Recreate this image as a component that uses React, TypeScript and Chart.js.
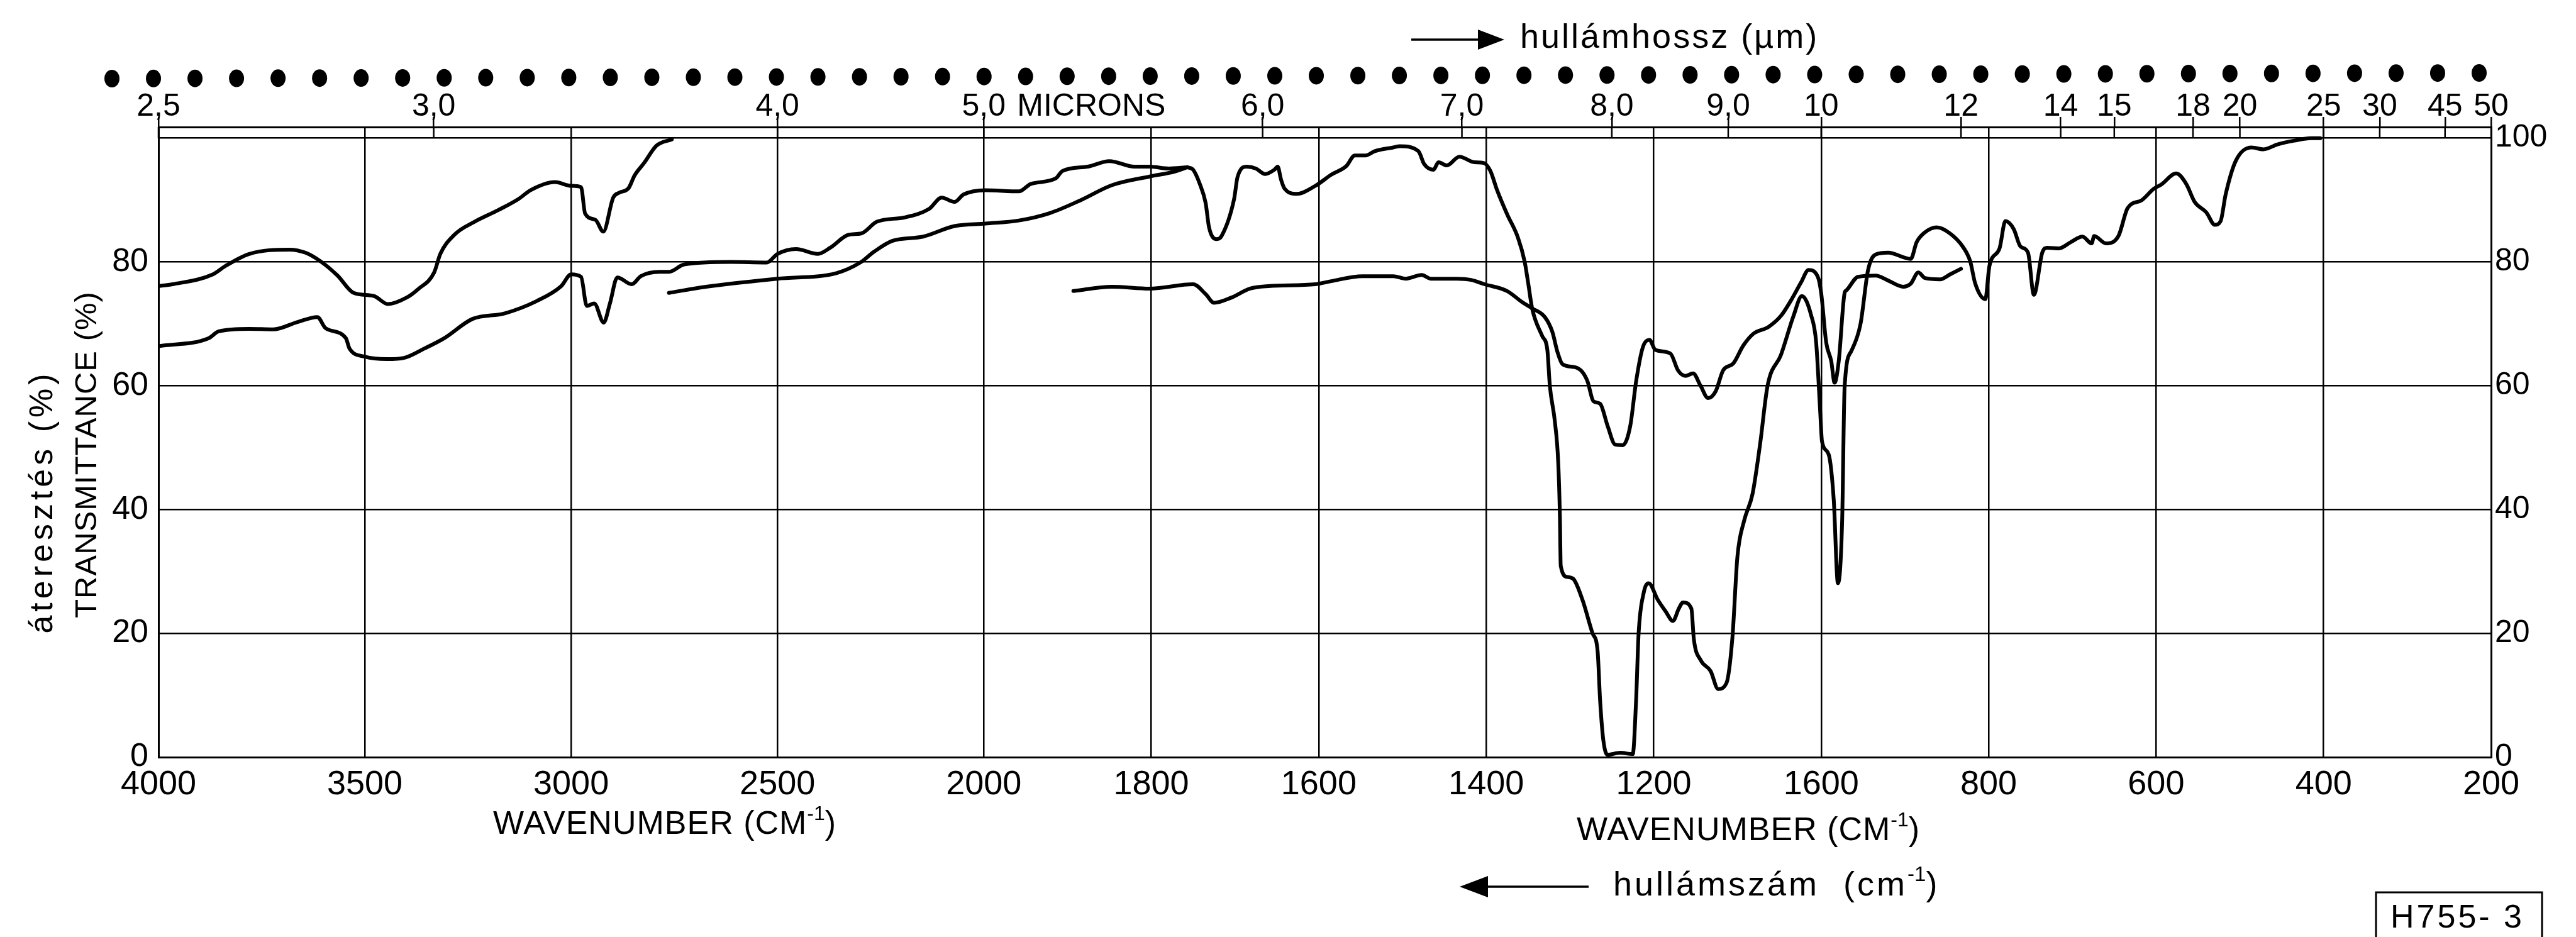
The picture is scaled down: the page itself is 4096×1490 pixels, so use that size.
import React, { useEffect, useRef } from 'react';
import { Chart, registerables, LinearScale } from 'chart.js';

// ---------------- data (wavenumber cm-1, transmittance %) ----------------
const traceA: [number, number][] = [
  [4000, 76.1], [3966, 76.4], [3868, 78], [3839, 79.3], [3780, 81.3], [3683, 82], [3644, 81.5],
  [3605, 80], [3566, 77.8], [3527, 75], [3478, 74.5], [3444, 73.2], [3400, 74.2], [3371, 75.6],
  [3332, 78.3], [3317, 81.3], [3283, 84.4], [3234, 86.5], [3176, 88.4], [3127, 90.2], [3098, 91.6],
  [3039, 92.9], [3000, 92.3], [2976, 92.1], [2966, 87.8], [2941, 86.8], [2922, 84.9], [2898, 90.4],
  [2883, 91.2], [2861, 91.9], [2846, 94], [2823, 96], [2793, 98.8], [2756, 99.8],
];

const traceB: [number, number][] = [
  [4000, 66.4], [3878, 67.7], [3854, 68.8], [3780, 69.2], [3722, 69.1], [3663, 70.3], [3615, 71.1],
  [3595, 69.3], [3546, 67.7], [3537, 66], [3500, 64.7], [3446, 64.3], [3405, 64.5], [3356, 66],
  [3307, 67.7], [3239, 70.8], [3161, 71.7], [3083, 73.7], [3024, 76.1], [3000, 78], [2976, 77.6],
  [2962, 72.9], [2944, 73.3], [2921, 70.2], [2906, 73.3], [2888, 77.5], [2853, 76.4], [2831, 77.7],
  [2786, 78.4], [2763, 78.4], [2726, 79.6], [2613, 80], [2526, 79.9], [2500, 81.3], [2455, 82.1],
  [2402, 81.3], [2372, 82.3], [2327, 84.4], [2297, 84.6], [2259, 86.5], [2192, 87.2], [2132, 88.6],
  [2102, 90.4], [2071, 89.7], [2049, 90.9], [1998, 91.6], [1958, 91.4], [1944, 92.6], [1914, 93.5],
  [1906, 94.7], [1876, 95.4], [1850, 96.3], [1820, 95.4], [1802, 95.4], [1779, 95.1], [1757, 95.3],
];

const traceD: [number, number][] = [
  [2763, 75], [2673, 76], [2500, 77.3], [2357, 78.2], [2297, 80], [2267, 81.6], [2222, 83.4],
  [2147, 84.1], [2071, 85.8], [1998, 86.2], [1958, 86.7], [1921, 87.9], [1884, 90], [1847, 92.4],
  [1802, 93.8], [1772, 94.6], [1757, 95.3],
];

const traceMain: [number, number][] = [
  [1757, 95.3], [1750, 94.9], [1742, 92.6], [1735, 89.5], [1731, 85.6], [1722, 83.7], [1716, 84.2],
  [1701, 90.2], [1697, 93.7], [1686, 95.4], [1675, 95.1], [1664, 94.2], [1653, 94.9], [1649, 95.4],
  [1645, 93.3], [1641, 91.9], [1626, 91], [1604, 92.3], [1585, 94.1], [1567, 95.5], [1557, 97.2],
  [1544, 97.2], [1533, 97.9], [1511, 98.5], [1503, 98.7], [1481, 97.9], [1474, 95.8], [1463, 94.9],
  [1457, 96.1], [1447, 95.6], [1432, 97], [1414, 96.1], [1403, 96], [1395, 94.7], [1387, 91.6],
  [1375, 87.7], [1362, 83.9], [1354, 80], [1350, 76.7], [1345, 72.4], [1333, 68], [1327, 65.8],
  [1324, 60], [1318, 54.2], [1314, 47.6], [1312, 38.9], [1311, 30.9], [1303, 29.1], [1296, 28.8],
  [1285, 25.4], [1273, 20], [1267, 17.2], [1264, 9.2], [1260, 2.6], [1255, 0.4], [1240, 0.7],
  [1225, 0.5], [1221, 9.2], [1218, 20], [1212, 26.5], [1206, 28.1], [1195, 25.4], [1186, 23.6],
  [1177, 22], [1170, 24], [1165, 25], [1155, 24], [1152, 19], [1144, 15.7], [1132, 13.9],
  [1123, 11], [1113, 12], [1106, 19.3], [1100, 32.4], [1092, 38.2], [1082, 42.5], [1073, 50.5],
  [1064, 60], [1048, 65], [1033, 71.3], [1023, 74.5], [1012, 71.4], [1006, 67], [1001, 55.4],
  [999, 51], [991, 48.9], [985, 41.6], [980, 28.1], [975, 37.9], [972, 59.8], [964, 65.6],
  [953, 70], [944, 78.7], [935, 81.2], [920, 81.5], [893, 80.5], [886, 83.2], [876, 84.8],
  [862, 85.6], [846, 84.6], [831, 82.5], [822, 80.1], [816, 76.5], [804, 74], [799, 79.4],
  [787, 82.2], [780, 86.6], [770, 85.3], [762, 82.5], [753, 81.5], [746, 74.7], [736, 81.5],
  [730, 82.3], [716, 82.2], [702, 83.2], [688, 84.1], [677, 83], [674, 84.2], [660, 83],
  [645, 84.2], [634, 88.7], [617, 90], [603, 91.8], [594, 92.5], [576, 94.3], [564, 92.6],
  [554, 89.7], [540, 88], [530, 86], [523, 86.6], [517, 90.9], [505, 96.3], [486, 98.5],
  [472, 98.2], [455, 99], [435, 99.6], [415, 100], [404, 100],
];

const traceC: [number, number][] = [
  [1893, 75.3], [1847, 76], [1802, 75.7], [1750, 76.4], [1735, 74.8], [1725, 73.4], [1705, 74.2],
  [1682, 75.7], [1660, 76.1], [1604, 76.4], [1585, 76.9], [1548, 77.7], [1511, 77.7], [1496, 77.3],
  [1477, 77.9], [1466, 77.3], [1435, 77.3], [1418, 77.1], [1402, 76.4], [1375, 75.3], [1357, 73.5],
  [1345, 72.5], [1330, 71.1], [1321, 68.7], [1315, 65.5], [1309, 63.5], [1294, 63], [1285, 62.2],
  [1279, 60.7], [1272, 57.5], [1264, 57.1], [1255, 53.5], [1246, 50.5], [1237, 50.4], [1228, 53.5],
  [1221, 60.7], [1213, 66.2], [1205, 67.4], [1198, 65.8], [1180, 65.2], [1171, 62.5], [1162, 61.6],
  [1153, 62], [1144, 60], [1135, 58], [1126, 59.1], [1117, 62.5], [1105, 63.6], [1093, 66.5],
  [1081, 68.4], [1063, 69.5], [1048, 71.3], [1036, 73.8], [1024, 76.7], [1015, 78.7], [1004, 77.6],
  [1000, 75], [994, 67], [988, 64], [984, 60.5], [979, 64], [972, 75], [970, 75.4], [956, 77.6],
  [935, 77.8], [920, 77], [902, 76], [893, 76.5], [884, 78.3], [876, 77.4], [858, 77.2], [846, 78],
  [833, 78.9],
];

const bottomTickWavenumbers = [4000, 3500, 3000, 2500, 2000, 1800, 1600, 1400, 1200, 1000, 800, 600, 400, 200];
const bottomTickLabels = ['4000', '3500', '3000', '2500', '2000', '1800', '1600', '1400', '1200', '1600', '800', '600', '400', '200'];
const micronTickWavenumbers = [4000, 3333, 2500, 2000, 1667, 1429, 1250, 1111, 1000, 833, 714, 650, 556, 500, 400, 333, 255, 200];
const micronTickLabels = ['2,5', '3,0', '4,0', '5,0', '6,0', '7,0', '8,0', '9,0', '10', '12', '14', '15', '18', '20', '25', '30', '45', '50'];
const transmittanceTicks = [0, 20, 40, 60, 80, 100];

// ---------------- scale: IR chart with scale change at 2000 cm-1 ----------------
const W_HIGH = 4000;
const W_BREAK = 2000;
const W_LOW = 200;
const HIGH_FRAC = 1700 / 4805;

class IRWaveScale extends LinearScale {
  static id = 'irwave';
  static defaults = { ...(LinearScale as any).defaults };
  getPixelForValue(value: number) {
    const f = value >= W_BREAK
      ? ((W_HIGH - value) / (W_HIGH - W_BREAK)) * HIGH_FRAC
      : HIGH_FRAC + ((W_BREAK - value) / (W_BREAK - W_LOW)) * (1 - HIGH_FRAC);
    return (this as any).left + f * (this as any).width;
  }
  getValueForPixel(pixel: number) {
    const f = (pixel - (this as any).left) / (this as any).width;
    return f <= HIGH_FRAC
      ? W_HIGH - (f / HIGH_FRAC) * (W_HIGH - W_BREAK)
      : W_BREAK - ((f - HIGH_FRAC) / (1 - HIGH_FRAC)) * (W_BREAK - W_LOW);
  }
}

Chart.register(...registerables, IRWaveScale as any);

const FONT = '"Liberation Sans", Arial, sans-serif';
const Y_MAX = 101.8;

function drawParts(ctx: CanvasRenderingContext2D, parts: [string, boolean][], x: number, y: number, size: number, spacing = 0) {
  ctx.textAlign = 'left';
  ctx.textBaseline = 'alphabetic';
  let cx = x;
  for (const [txt, sup] of parts) {
    const s = sup ? Math.round(size * 0.62) : size;
    ctx.font = `${s}px ${FONT}`;
    (ctx as any).letterSpacing = `${sup ? 0 : spacing}px`;
    ctx.fillText(txt, cx, sup ? y - size * 0.42 : y);
    cx += ctx.measureText(txt).width;
  }
  (ctx as any).letterSpacing = '0px';
}

const decorPlugin = {
  id: 'irDecor',
  afterDraw(chart: any) {
    const ctx: CanvasRenderingContext2D = chart.ctx;
    const { top } = chart.chartArea;
    const xt = chart.scales.xTop;
    const ys = chart.scales.y;
    ctx.save();
    ctx.fillStyle = '#000';
    ctx.strokeStyle = '#000';

    // micron tick stubs between outer frame line and the 100 % line
    ctx.lineWidth = 2.5;
    const y100 = ys.getPixelForValue(100);
    for (const w of micronTickWavenumbers) {
      const px = xt.getPixelForValue(w);
      ctx.beginPath();
      ctx.moveTo(px, top);
      ctx.lineTo(px, y100);
      ctx.stroke();
    }

    // row of sprocket dots
    const n = 58, x0 = 178, x1 = 3942, yd0 = 125, yd1 = 116;
    for (let i = 0; i < n; i++) {
      const t = i / (n - 1);
      ctx.beginPath();
      ctx.ellipse(x0 + t * (x1 - x0), yd0 + t * (yd1 - yd0), 12, 14, 0, 0, Math.PI * 2);
      ctx.fill();
    }

    // "MICRONS" after the 5,0 label
    ctx.font = `50px ${FONT}`;
    ctx.textAlign = 'left';
    ctx.textBaseline = 'middle';
    ctx.fillText('MICRONS', xt.getPixelForValue(2000) + 53, 170);

    // top: arrow + hullámhossz (µm)
    ctx.lineWidth = 3.5;
    ctx.beginPath();
    ctx.moveTo(2244, 63);
    ctx.lineTo(2360, 63);
    ctx.stroke();
    ctx.beginPath();
    ctx.moveTo(2392, 63);
    ctx.lineTo(2350, 47);
    ctx.lineTo(2350, 79);
    ctx.closePath();
    ctx.fill();
    drawParts(ctx, [['hullámhossz (µm)', false]], 2417, 76, 54, 3);

    // bottom axis titles
    drawParts(ctx, [['WAVENUMBER (CM', false], ['-1', true], [')', false]], 784, 1326, 52, 1);
    drawParts(ctx, [['WAVENUMBER (CM', false], ['-1', true], [')', false]], 2507, 1336, 52, 1);

    // bottom: arrow + hullámszám (cm-1)
    ctx.lineWidth = 3.5;
    ctx.beginPath();
    ctx.moveTo(2526, 1410);
    ctx.lineTo(2360, 1410);
    ctx.stroke();
    ctx.beginPath();
    ctx.moveTo(2321, 1410);
    ctx.lineTo(2366, 1393);
    ctx.lineTo(2366, 1427);
    ctx.closePath();
    ctx.fill();
    drawParts(ctx, [['hullámszám  (cm', false], ['-1', true], [')', false]], 2565, 1424, 54, 4);

    // left titles (rotated)
    const rot = (txt: string, x: number, y: number, size: number, spacing: number) => {
      ctx.save();
      ctx.translate(x, y);
      ctx.rotate(-Math.PI / 2);
      ctx.font = `${size}px ${FONT}`;
      (ctx as any).letterSpacing = `${spacing}px`;
      ctx.textAlign = 'center';
      ctx.textBaseline = 'alphabetic';
      ctx.fillText(txt, 0, 0);
      ctx.restore();
    };
    rot('áteresztés (%)', 83, 798, 52, 6);
    rot('TRANSMITTANCE (%)', 153, 723, 49, 1);

    // H755-3 box
    ctx.lineWidth = 3;
    ctx.beginPath();
    ctx.moveTo(3778, 1492);
    ctx.lineTo(3778, 1419);
    ctx.lineTo(4042, 1419);
    ctx.lineTo(4042, 1492);
    ctx.stroke();
    drawParts(ctx, [['H755- 3', false]], 3801, 1475, 52, 4);

    ctx.restore();
  },
};

function App() {
  const ref = useRef<HTMLCanvasElement>(null);
  useEffect(() => {
    document.body.style.margin = '0';
    const canvas = ref.current!;
    const ds = (arr: [number, number][]) => ({
      data: arr.map(([x, y]) => ({ x, y })),
      borderColor: '#000',
      borderWidth: 6,
      pointRadius: 0,
      cubicInterpolationMode: 'monotone',
      borderJoinStyle: 'round',
      borderCapStyle: 'round',
      fill: false,
      xAxisID: 'x',
      yAxisID: 'y',
    });
    const tickFont = (size: number) => ({ family: FONT, size });
    const chart = new Chart(canvas, {
      type: 'line',
      data: { datasets: [ds(traceA), ds(traceB), ds(traceD), ds(traceMain), ds(traceC)] as any },
      options: {
        animation: false,
        responsive: false,
        devicePixelRatio: 1,
        layout: { padding: 0 },
        plugins: { legend: { display: false }, tooltip: { enabled: false } },
        scales: {
          x: {
            type: 'irwave' as any,
            axis: 'x',
            position: 'bottom',
            min: W_LOW,
            max: W_HIGH,
            afterBuildTicks: (s: any) => { s.ticks = bottomTickWavenumbers.map((v) => ({ value: v })); },
            afterFit: (s: any) => { s.height = 286; },
            ticks: {
              autoSkip: false, maxRotation: 0, minRotation: 0, padding: 12, color: '#000', font: tickFont(54),
              callback: (_v: any, i: number) => bottomTickLabels[i],
            },
            grid: { color: '#000', lineWidth: 2.5, drawTicks: false, drawOnChartArea: true },
            border: { display: true, color: '#000', width: 3 },
          },
          xTop: {
            type: 'irwave' as any,
            axis: 'x',
            position: 'top',
            min: W_LOW,
            max: W_HIGH,
            afterBuildTicks: (s: any) => { s.ticks = micronTickWavenumbers.map((v) => ({ value: v })); },
            afterFit: (s: any) => { s.height = 202; },
            ticks: {
              autoSkip: false, maxRotation: 0, minRotation: 0, padding: -14, color: '#000', font: tickFont(50),
              callback: (_v: any, i: number) => micronTickLabels[i],
            },
            grid: { color: '#000', lineWidth: 2.5, drawTicks: true, tickLength: 16, drawOnChartArea: false },
            border: { display: true, color: '#000', width: 3 },
          },
          y: {
            type: 'linear',
            position: 'left',
            min: 0,
            max: Y_MAX,
            afterBuildTicks: (s: any) => { s.ticks = transmittanceTicks.map((v) => ({ value: v })); },
            afterFit: (s: any) => { s.width = 252; },
            ticks: {
              padding: 16, color: '#000', font: tickFont(52),
              callback: (v: any) => (v === 100 ? '' : String(v)),
            },
            grid: { color: '#000', lineWidth: 2.5, drawTicks: false },
            border: { display: true, color: '#000', width: 3 },
          },
          yRight: {
            type: 'linear',
            axis: 'y',
            position: 'right',
            min: 0,
            max: Y_MAX,
            afterBuildTicks: (s: any) => { s.ticks = transmittanceTicks.map((v) => ({ value: v })); },
            afterFit: (s: any) => { s.width = 135; },
            ticks: { padding: 6, color: '#000', font: tickFont(50), callback: (v: any) => String(v) },
            grid: { drawOnChartArea: false, drawTicks: false },
            border: { display: true, color: '#000', width: 3 },
          },
        },
      } as any,
      plugins: [decorPlugin],
    });
    return () => chart.destroy();
  }, []);
  return (
    <div style={{ position: 'absolute', left: 0, top: 0, width: 4096, height: 1490, background: '#fff' }}>
      <canvas ref={ref} width={4096} height={1490} style={{ width: 4096, height: 1490, display: 'block' }} />
    </div>
  );
}

export default App;
